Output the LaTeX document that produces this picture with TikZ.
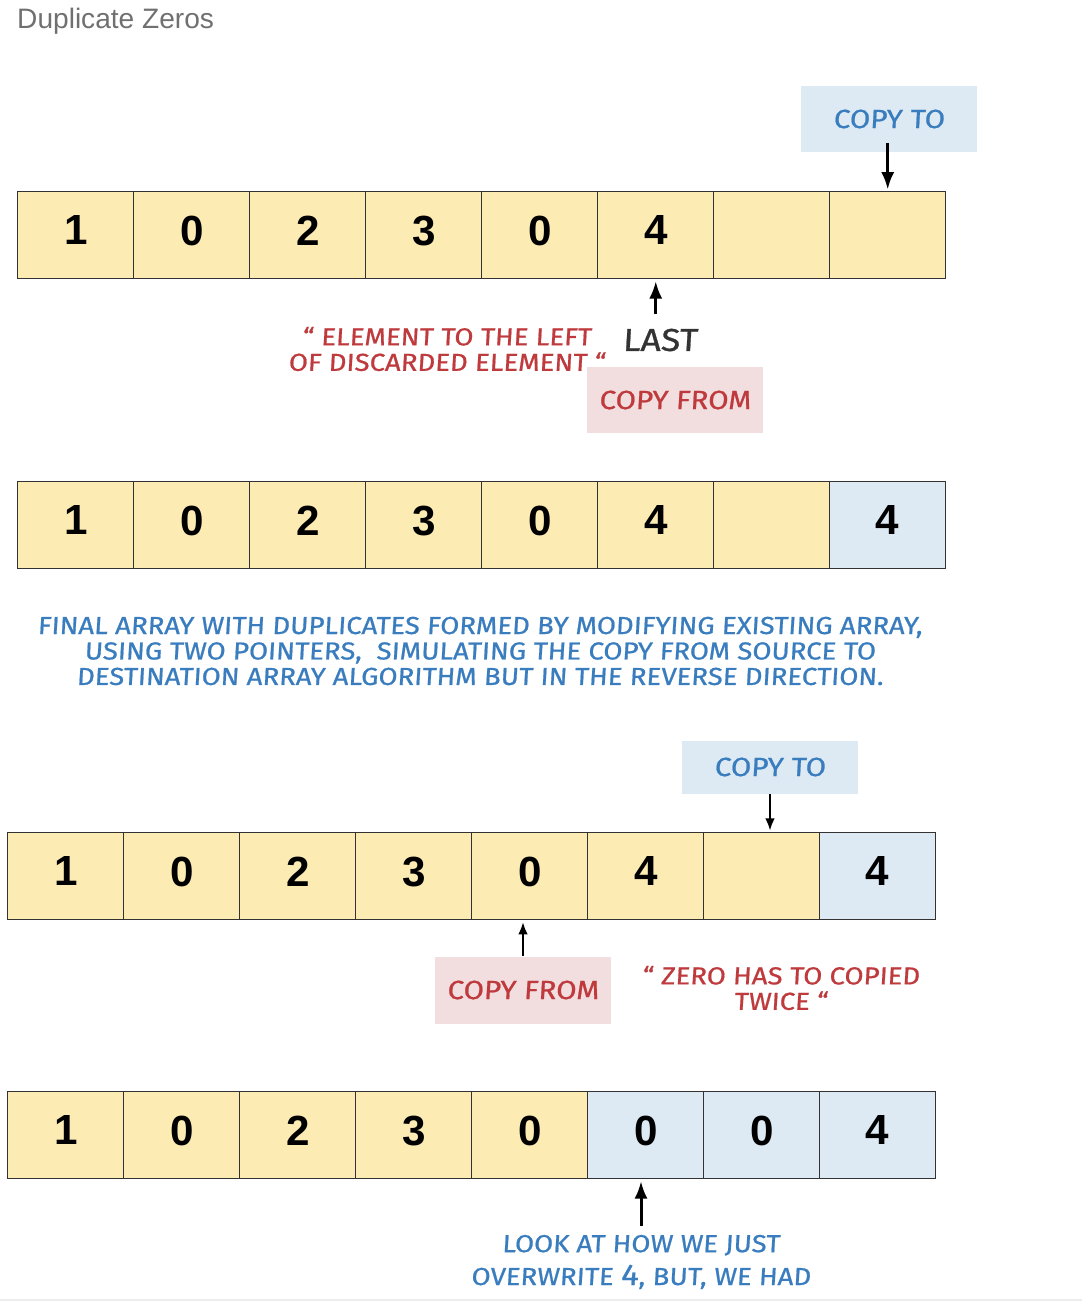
\documentclass[tikz,border=0pt]{standalone}
\usepackage{fontspec}
\setmainfont{Liberation Sans}
\newfontfamily\handfont[FakeStretch=1.12, FakeSlant=0.06, FakeBold=0.8]{Fira Sans}
\usepackage{tikz}
\usetikzlibrary{positioning,calc,matrix,arrows,arrows.meta}
\definecolor{cellyellow}{HTML}{FCEBB2}
\definecolor{cellblue}{HTML}{DDEAF3}
\definecolor{tagpink}{HTML}{F2DEDF}
\definecolor{inkblue}{HTML}{3A7DBF}
\definecolor{inkred}{HTML}{BF3A3D}
\tikzstyle{cell} = [draw=black!80, fill=cellyellow, minimum width=2.32cm, minimum height=1.74cm, inner sep=0pt, line width=0.6pt, anchor=center, text depth=0.2cm, font=\fontsize{24}{28}\selectfont\bfseries]
\tikzstyle{cellb} = [fill=cellblue]
\tikzstyle{row} = [matrix of nodes, nodes in empty cells, nodes={cell}, column sep=-0.6pt, inner sep=0pt, anchor=north west]
\tikzstyle{tagb} = [fill=cellblue, minimum width=3.52cm, minimum height=1.34cm, text=inkblue, font=\handfont\fontsize{15}{15}\selectfont]
\tikzstyle{tagr} = [fill=tagpink, minimum width=3.52cm, minimum height=1.34cm, text=inkred, font=\handfont\fontsize{15}{15}\selectfont]
\tikzstyle{remark} = [align=center, inner sep=1pt, text=inkred, font=\handfont\fontsize{14}{14.5}\selectfont]
\tikzstyle{ptr} = [-{Latex[length=10pt,width=7.5pt]}, line width=1.7pt, shorten >=1pt]
\tikzstyle{ptrthin} = [-{Latex[length=7pt,width=5.5pt]}, line width=1.1pt, shorten >=1pt]

\begin{document}
\begin{tikzpicture}[x=0.02cm, y=-0.02cm]
		\useasboundingbox (0,0) rectangle (1082,1308);
		\node (title) [anchor=west, text=black!56, font=\fontsize{16}{16}\selectfont] at (11,21) {Duplicate Zeros};
		% first step
		\matrix (r1) [row] at (17,191)
		{
			1 & 0 & 2 & 3 & 0 & 4 & & \\
		};
		\node (to1) [tagb] at (889,119) {COPY TO};
		\draw[ptr] ([yshift=0.2cm]r1-1-8.north |- to1.south) -- (r1-1-8.north);
		\node (last) [inner sep=1pt, text=black!80, font=\handfont\fontsize{18}{18}\selectfont] at (660,340) {LAST};
		\draw[ptr] ([yshift=0.25cm]r1-1-6.south |- last.north) -- (r1-1-6.south);
		\node (why1) [remark] at (447,349) {“ ELEMENT TO THE LEFT\\OF DISCARDED ELEMENT “};
		\node (from1) [tagr] at (675,400) {COPY FROM};
		% second step
		\matrix (r2) [row] at (17,481)
		{
			1 & 0 & 2 & 3 & 0 & 4 & & |[cellb]| 4 \\
		};
		\node (final) [remark, text=inkblue] at (480,651) {FINAL ARRAY WITH DUPLICATES FORMED BY MODIFYING EXISTING ARRAY,\\USING TWO POINTERS,\ \ SIMULATING THE COPY FROM SOURCE TO\\DESTINATION ARRAY ALGORITHM BUT IN THE REVERSE DIRECTION.};
		% third step
		\node (to2) [tagb, minimum height=1.06cm] at (770,767) {COPY TO};
		\matrix (r3) [row] at (7,832)
		{
			1 & 0 & 2 & 3 & 0 & 4 & & |[cellb]| 4 \\
		};
		\draw[ptrthin] (to2.south) -- (to2.south |- r3-1-7.north);
		\node (from2) [tagr] at (523,990) {COPY FROM};
		\draw[ptrthin] (from2.north) -- (from2.north |- r3-1-5.south);
		\node (why2) [remark] at (781,988) {“ ZERO HAS TO COPIED\\TWICE “};
		% fourth step
		\matrix (r4) [row] at (7,1091)
		{
			1 & 0 & 2 & 3 & 0 & |[cellb]| 0 & |[cellb]| 0 & |[cellb]| 4 \\
		};
		\node (look) [remark, text=inkblue, font=\handfont\fontsize{14}{18.7}\selectfont] at (641,1262) {LOOK AT HOW WE JUST\\OVERWRITE {\fontsize{17}{17}\selectfont 4}, BUT, WE HAD};
		\draw[ptr] ([yshift=0.14cm]look.north) -- (look.north |- r4-1-6.south);
		\draw[black!7, line width=1pt] (0,1300) -- (1082,1300);
\end{tikzpicture}
\end{document}
